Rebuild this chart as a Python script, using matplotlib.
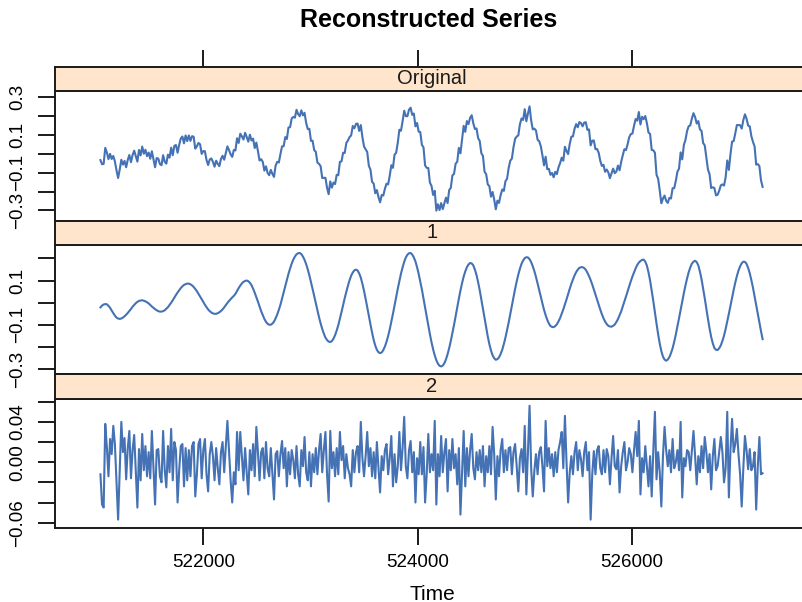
import numpy as np
import matplotlib
matplotlib.use("Agg")
import matplotlib.pyplot as plt

plt.rcParams["font.family"] = ["Liberation Sans", "DejaVu Sans"]

# Regularly sampled time axis
t_start = 521040
t_step = 15

# Reconstructed component 1 (oscillatory part)
component_1 = [
    -0.021, -0.013, -0.008, -0.006, -0.007, -0.014, -0.023, -0.035, -0.047, -0.058,
    -0.067, -0.071, -0.073, -0.071, -0.067, -0.061, -0.054, -0.046, -0.037, -0.028,
    -0.018, -0.010, -0.002, 0.004, 0.008, 0.010, 0.011, 0.009, 0.006, 0.002,
    -0.003, -0.010, -0.017, -0.023, -0.029, -0.034, -0.038, -0.040, -0.040, -0.038,
    -0.034, -0.027, -0.020, -0.010, 0.000, 0.011, 0.023, 0.035, 0.046, 0.056,
    0.066, 0.074, 0.080, 0.084, 0.086, 0.086, 0.083, 0.078, 0.071, 0.062,
    0.052, 0.040, 0.028, 0.016, 0.003, -0.009, -0.020, -0.030, -0.038, -0.044,
    -0.048, -0.050, -0.050, -0.047, -0.043, -0.037, -0.030, -0.021, -0.011, -0.001,
    0.008, 0.016, 0.024, 0.031, 0.040, 0.053, 0.066, 0.077, 0.087, 0.094,
    0.098, 0.100, 0.097, 0.090, 0.079, 0.063, 0.045, 0.025, 0.005, -0.017,
    -0.038, -0.056, -0.073, -0.086, -0.095, -0.099, -0.099, -0.094, -0.085, -0.070,
    -0.053, -0.032, -0.009, 0.019, 0.047, 0.075, 0.103, 0.130, 0.154, 0.176,
    0.194, 0.208, 0.218, 0.223, 0.224, 0.219, 0.208, 0.193, 0.174, 0.150,
    0.123, 0.093, 0.062, 0.030, -0.003, -0.034, -0.065, -0.093, -0.118, -0.139,
    -0.157, -0.168, -0.175, -0.177, -0.173, -0.162, -0.146, -0.125, -0.101, -0.072,
    -0.042, -0.010, 0.021, 0.050, 0.077, 0.101, 0.122, 0.136, 0.146, 0.149,
    0.145, 0.132, 0.113, 0.085, 0.054, 0.018, -0.020, -0.059, -0.097, -0.134,
    -0.167, -0.193, -0.212, -0.223, -0.227, -0.224, -0.213, -0.197, -0.176, -0.150,
    -0.120, -0.086, -0.050, -0.012, 0.026, 0.063, 0.098, 0.131, 0.159, 0.184,
    0.204, 0.216, 0.223, 0.224, 0.217, 0.204, 0.186, 0.160, 0.130, 0.096,
    0.060, 0.020, -0.021, -0.062, -0.103, -0.142, -0.178, -0.210, -0.237, -0.259,
    -0.275, -0.284, -0.287, -0.283, -0.272, -0.255, -0.232, -0.204, -0.172, -0.137,
    -0.100, -0.060, -0.020, 0.018, 0.055, 0.088, 0.118, 0.141, 0.160, 0.172,
    0.179, 0.177, 0.168, 0.149, 0.125, 0.092, 0.056, 0.014, -0.027, -0.071,
    -0.113, -0.152, -0.187, -0.215, -0.237, -0.250, -0.257, -0.254, -0.246, -0.231,
    -0.212, -0.186, -0.157, -0.124, -0.089, -0.051, -0.013, 0.025, 0.062, 0.096,
    0.127, 0.153, 0.175, 0.190, 0.201, 0.205, 0.204, 0.196, 0.183, 0.164,
    0.142, 0.116, 0.087, 0.057, 0.026, -0.003, -0.032, -0.056, -0.077, -0.093,
    -0.105, -0.109, -0.110, -0.105, -0.097, -0.084, -0.069, -0.050, -0.030, -0.008,
    0.015, 0.039, 0.063, 0.085, 0.105, 0.123, 0.138, 0.149, 0.157, 0.160,
    0.160, 0.156, 0.148, 0.135, 0.120, 0.102, 0.082, 0.060, 0.037, 0.014,
    -0.010, -0.031, -0.052, -0.070, -0.085, -0.096, -0.104, -0.107, -0.108, -0.104,
    -0.098, -0.087, -0.074, -0.057, -0.039, -0.017, 0.005, 0.028, 0.051, 0.074,
    0.097, 0.118, 0.137, 0.155, 0.170, 0.181, 0.188, 0.193, 0.194, 0.185,
    0.167, 0.137, 0.100, 0.055, 0.007, -0.044, -0.094, -0.142, -0.184, -0.218,
    -0.243, -0.256, -0.261, -0.256, -0.245, -0.227, -0.205, -0.176, -0.143, -0.107,
    -0.070, -0.032, 0.006, 0.043, 0.078, 0.109, 0.137, 0.159, 0.176, 0.185,
    0.189, 0.183, 0.168, 0.140, 0.106, 0.064, 0.020, -0.027, -0.073, -0.116,
    -0.154, -0.183, -0.204, -0.212, -0.213, -0.205, -0.192, -0.172, -0.148, -0.118,
    -0.085, -0.050, -0.014, 0.022, 0.058, 0.091, 0.120, 0.145, 0.164, 0.178,
    0.185, 0.184, 0.175, 0.157, 0.133, 0.102, 0.068, 0.030, -0.010, -0.050,
    -0.090, -0.128, -0.164,
]

# Reconstructed component 2 (residual part)
component_2 = [
    -0.012, -0.042, -0.045, 0.038, 0.015, -0.014, 0.023, 0.008, 0.036, 0.018,
    -0.020, -0.057, -0.010, 0.040, 0.010, 0.024, -0.017, 0.014, 0.031, -0.016,
    0.012, 0.027, -0.010, -0.045, 0.013, -0.018, 0.028, -0.008, 0.016, -0.014,
    0.010, -0.016, 0.031, -0.006, -0.042, 0.012, 0.013, -0.014, -0.020, 0.031,
    -0.008, -0.025, 0.016, -0.010, 0.033, -0.018, 0.020, 0.012, -0.040, -0.008,
    0.016, 0.018, -0.024, 0.014, -0.018, 0.012, -0.014, 0.016, 0.020, -0.034,
    -0.012, 0.018, 0.023, -0.016, 0.012, 0.023, -0.012, -0.029, 0.008, 0.020,
    0.006, -0.018, 0.014, -0.006, -0.022, 0.010, 0.020, -0.010, 0.016, 0.041,
    0.012, -0.018, -0.040, -0.010, -0.022, 0.030, -0.008, 0.030, 0.006, -0.018,
    0.014, -0.010, -0.032, 0.012, -0.008, 0.018, -0.014, 0.035, 0.010, -0.018,
    0.010, 0.014, -0.016, 0.020, -0.006, -0.014, 0.014, -0.012, -0.037, 0.008,
    0.011, -0.014, 0.008, 0.021, -0.006, 0.014, -0.024, 0.010, -0.012, 0.012,
    0.002, -0.016, 0.016, -0.012, -0.024, 0.012, -0.004, 0.025, -0.010, -0.018,
    0.010, -0.024, 0.008, -0.010, 0.014, -0.012, 0.012, 0.028, -0.010, 0.012,
    0.030, -0.012, -0.039, 0.031, -0.006, 0.010, -0.014, 0.014, -0.012, 0.030,
    0.002, 0.016, -0.016, 0.008, -0.006, -0.012, -0.024, 0.012, -0.010, 0.010,
    0.016, -0.010, 0.040, 0.004, -0.014, 0.006, 0.030, -0.004, 0.014, -0.014,
    0.010, -0.016, 0.020, -0.006, -0.030, 0.006, -0.008, 0.012, 0.018, -0.012,
    0.004, 0.026, -0.024, 0.008, -0.020, -0.004, 0.030, -0.008, 0.014, 0.045,
    -0.004, -0.016, 0.012, 0.021, -0.010, 0.010, -0.040, 0.004, -0.012, 0.020,
    -0.012, 0.015, -0.040, -0.012, 0.028, -0.010, 0.008, -0.008, 0.041, -0.042,
    0.008, -0.014, 0.026, -0.010, 0.010, 0.023, -0.029, 0.012, -0.008, 0.023,
    -0.006, 0.008, -0.022, 0.014, -0.052, -0.010, 0.031, -0.024, 0.014, -0.014,
    0.012, 0.028, -0.006, -0.017, 0.010, -0.008, 0.012, -0.010, 0.016, -0.024,
    0.006, -0.010, 0.016, -0.012, 0.035, 0.008, -0.037, 0.006, -0.014, 0.012,
    0.023, -0.010, 0.012, -0.008, 0.014, 0.015, -0.012, 0.010, 0.018, -0.004,
    -0.029, 0.004, 0.013, -0.010, 0.036, -0.032, 0.010, 0.056, -0.006, -0.034,
    -0.008, 0.008, -0.012, 0.010, 0.015, -0.004, -0.029, 0.041, -0.004, 0.014,
    -0.006, 0.008, -0.014, 0.010, -0.010, 0.012, 0.020, 0.030, -0.006, 0.046,
    0.000, -0.040, -0.010, 0.006, -0.012, 0.010, 0.020, -0.008, 0.012, 0.003,
    -0.014, 0.010, 0.020, -0.008, 0.010, -0.057, -0.012, 0.011, -0.012, 0.012,
    0.016, -0.006, -0.012, 0.012, -0.010, 0.013, 0.006, -0.022, 0.004, 0.026,
    -0.004, -0.007, 0.012, -0.030, -0.004, 0.010, 0.020, -0.008, 0.000, 0.014,
    0.008, -0.010, 0.012, 0.030, 0.006, 0.041, -0.032, 0.004, -0.010, 0.016,
    -0.004, -0.024, 0.006, -0.034, 0.012, 0.050, -0.017, 0.010, -0.010, -0.044,
    0.006, 0.035, 0.012, -0.004, 0.012, -0.010, 0.023, -0.006, 0.000, 0.012,
    -0.008, 0.040, -0.035, 0.004, -0.004, 0.012, 0.010, -0.008, 0.012, 0.031,
    0.006, -0.022, 0.006, -0.010, 0.016, -0.006, 0.025, 0.010, -0.010, 0.008,
    -0.027, 0.006, 0.023, -0.008, -0.004, 0.010, 0.025, 0.010, -0.020, -0.006,
    0.050, -0.035, 0.012, 0.043, 0.010, 0.018, 0.033, 0.008, -0.012, -0.044,
    -0.006, 0.026, 0.012, -0.007, 0.013, -0.008, -0.004, 0.010, -0.047, -0.004,
    0.025, -0.012, -0.011,
]

comp1 = np.array(component_1)
comp2 = np.array(component_2)
time = t_start + t_step * np.arange(len(comp1))
# the original series is the sum of its reconstructed components
original = comp1 + comp2

strip_labels = ["Original", "1", "2"]
x_ticks = [522000, 524000, 526000]
x_limits = (520616, 527653)

y_limits = [(-0.356, 0.3336), (-0.321, 0.260), (-0.0653, 0.0627)]
y_ticks = [
    [-0.3, -0.2, -0.1, 0.0, 0.1, 0.2, 0.3],
    [-0.3, -0.2, -0.1, 0.0, 0.1, 0.2],
    [-0.06, -0.04, -0.02, 0.0, 0.02, 0.04, 0.06],
]
y_ticklabels = [
    ["\u22120.3", "", "\u22120.1", "", "0.1", "", "0.3"],
    ["\u22120.3", "", "\u22120.1", "", "0.1", ""],
    ["\u22120.06", "", "", "0.00", "", "0.04", ""],
]

line_color = "#4472B4"
strip_color = "#FFE5CC"
frame_color = "#1a1a1a"
frame_lw = 1.4

W_PX, H_PX = 802, 602
fig = plt.figure(figsize=(W_PX / 100, H_PX / 100), dpi=100)

left_px, right_px = 55, 809


def rect(top, bottom):
    return [left_px / W_PX, 1 - bottom / H_PX,
            (right_px - left_px) / W_PX, (bottom - top) / H_PX]


strip_rows = [(67, 91), (221, 245), (374, 399)]
panel_rows = [(91, 221), (245, 374), (399, 528)]
series_list = [original, comp1, comp2]

for k in range(3):
    s_top, s_bot = strip_rows[k]
    p_top, p_bot = panel_rows[k]

    ax = fig.add_axes(rect(p_top, p_bot))
    ax.plot(time, series_list[k], color=line_color, lw=1.5, solid_joinstyle="round")
    ax.set_xlim(*x_limits)
    ax.set_ylim(*y_limits[k])
    ax.set_yticks(y_ticks[k])
    ax.set_yticklabels(y_ticklabels[k])
    ax.tick_params(axis="y", length=12, width=frame_lw, color=frame_color,
                   labelsize=13.5, labelrotation=90, pad=9)
    for lab in ax.get_yticklabels():
        lab.set_va("center")
    ax.set_xticks(x_ticks)
    if k == 2:
        ax.set_xticklabels([f"{v}" for v in x_ticks])
        ax.tick_params(axis="x", length=12, width=frame_lw, color=frame_color,
                       labelsize=13.5, pad=7)
    else:
        ax.tick_params(axis="x", length=0, labelbottom=False)
    for sp in ax.spines.values():
        sp.set_linewidth(frame_lw)
        sp.set_color(frame_color)

    sax = fig.add_axes(rect(s_top, s_bot))
    sax.set_facecolor(strip_color)
    sax.set_xlim(*x_limits)
    sax.set_yticks([])
    if k == 0:
        sax.set_xticks(x_ticks)
        sax.tick_params(axis="x", top=True, bottom=False, labeltop=False,
                        labelbottom=False, length=12, width=frame_lw,
                        color=frame_color)
    else:
        sax.set_xticks([])
    for sp in sax.spines.values():
        sp.set_linewidth(frame_lw)
        sp.set_color(frame_color)
    sax.text(0.5, 0.5, strip_labels[k], transform=sax.transAxes,
             ha="center", va="center", fontsize=14.5, color="#1a1a1a")

fig.text(428.5 / W_PX, 1 - 20 / H_PX, "Reconstructed Series",
         ha="center", va="center", fontsize=18, fontweight="bold")
fig.text(432 / W_PX, 1 - 594 / H_PX, "Time", ha="center", va="center",
         fontsize=15)

fig.savefig("out.png", dpi=100)
